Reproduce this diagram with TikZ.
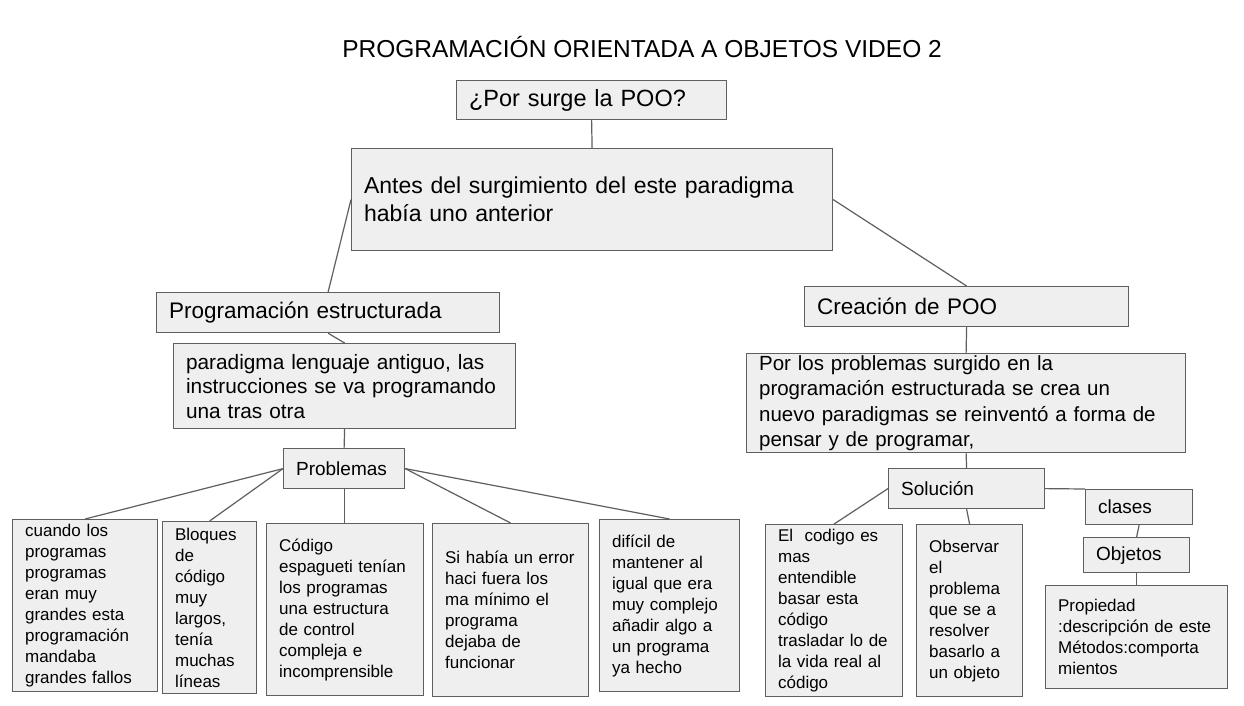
\documentclass[tikz,border=0pt]{standalone}
\usepackage{fontspec}
\setmainfont{Liberation Sans}
\usepackage{xcolor}
\usepackage{tikz}
\definecolor{boxgray}{RGB}{239,239,239}
\definecolor{linegray}{RGB}{95,95,95}
\newcommand{\fsize}[2]{\fontsize{#1}{#2}\selectfont}
\tikzset{
	idea/.style={draw=linegray, fill=boxgray, line width=1.2pt, anchor=north west,
		align=left, inner xsep=12.5pt, inner ysep=0pt},
	link/.style={draw=linegray, line width=1.2pt}
}

\begin{document}
\begin{tikzpicture}[x=1pt,y=-1pt]
	\fill[white] (0,0) rectangle (1244,705);
	\useasboundingbox (0,0) rectangle (1244,705);
	\node (titulo) at (642,47) {\fsize{24.5}{29}PROGRAMACIÓN ORIENTADA A OBJETOS VIDEO 2};
	% arriba
	\node[idea, text width=245pt, minimum height=39pt, font=\fsize{23.5}{28}] (q) at (456,80) {¿Por surge la POO?};
	\node[idea, text width=456pt, minimum height=102pt, font=\fsize{23}{28}] (antes) at (351,148)
		{Antes del surgimiento del este paradigma\\había uno anterior};
	% izquierda
	\node[idea, text width=318pt, minimum height=40pt, font=\fsize{22.5}{27}] (estruct) at (156,292) {Programación estructurada};
	\node[idea, text width=317pt, minimum height=85pt, font=\fsize{20.8}{24.5}] (parad) at (173,343)
		{paradigma lenguaje antiguo, las\\instrucciones se va programando\\una tras otra};
	\node[idea, text width=96pt, minimum height=40pt, font=\fsize{19}{23}] (prob) at (283,448) {Problemas};
	\node[idea, text width=120pt, minimum height=172pt, font=\fsize{17}{21}] (b1) at (12,519)
		{cuando los\\programas\\programas\\eran muy\\grandes esta\\programación\\mandaba\\grandes fallos};
	\node[idea, text width=69pt, minimum height=172pt, font=\fsize{17}{21}] (b2) at (162,521)
		{Bloques\\de\\código\\muy\\largos,\\tenía\\muchas\\líneas};
	\node[idea, text width=132pt, minimum height=172pt, font=\fsize{17}{21}] (b3) at (266,523)
		{Código\\espagueti tenían\\los programas\\una estructura\\de control\\compleja e\\incomprensible};
	\node[idea, text width=131pt, minimum height=173pt, font=\fsize{17}{21}] (b4) at (432,523)
		{Si había un error\\haci fuera los\\ma mínimo el\\programa\\dejaba de\\funcionar};
	\node[idea, text width=115pt, minimum height=172pt, font=\fsize{17}{21}] (b5) at (599,519)
		{difícil de\\mantener al\\igual que era\\muy complejo\\añadir algo a\\un programa\\ya hecho};
	% derecha
	\node[idea, text width=299pt, minimum height=40pt, font=\fsize{22.5}{27}] (creac) at (804,286) {Creación de POO};
	\node[idea, text width=414pt, minimum height=99pt, font=\fsize{20.5}{25.5}] (porlos) at (746,353)
		{Por los problemas surgido en la\\programación estructurada se crea un\\nuevo paradigmas se reinventó a forma de\\pensar y de programar,};
	\node[idea, text width=131pt, minimum height=40pt, font=\fsize{19}{23}] (sol) at (888,468) {Solución};
	\node[idea, text width=82pt, minimum height=35pt, font=\fsize{19}{23}] (clases) at (1085,489) {clases};
	\node[idea, text width=81pt, minimum height=35pt, font=\fsize{19}{23}] (objetos) at (1083,537) {Objetos};
	\node[idea, text width=157pt, minimum height=103pt, font=\fsize{17}{21}] (prop) at (1045,585)
		{Propiedad\\:descripción de este\\Métodos:comporta\\mientos};
	\node[idea, text width=112pt, minimum height=172pt, font=\fsize{17}{21}] (elcod) at (765,524)
		{El\ \ codigo es\\mas\\entendible\\basar esta\\código\\trasladar lo de\\la vida real al\\código};
	\node[idea, text width=81pt, minimum height=172pt, font=\fsize{17}{21}] (obs) at (916,524)
		{Observar\\el\\problema\\que se a\\resolver\\basarlo a\\un objeto};
	% conectores
	\draw[link] (q.south) -- (antes.north);
	\draw[link] (antes.west) -- (estruct.north);
	\draw[link] (antes.east) -- (creac.north);
	\draw[link] (estruct.south) -- (parad.north);
	\draw[link] (parad.south) -- (prob.north);
	\draw[link] (prob.west) -- (b1.north);
	\draw[link] (prob.west) -- (b2.north);
	\draw[link] (prob.south) -- (prob.south |- b3.north);
	\draw[link] (prob.east) -- (b4.north);
	\draw[link] (prob.east) -- (b5.north);
	\draw[link] (creac.south) -- (porlos.north);
	\draw[link] (porlos.south) -- (sol.north);
	\draw[link] (sol.west) -- (elcod.north);
	\draw[link] (sol.south) -- (obs.north);
	\draw[link] (sol.east) -- (clases.north west);
	\draw[link] (clases.south) -- (objetos.north);
	\draw[link] (objetos.south) -- (prop.north);
\end{tikzpicture}
\end{document}
